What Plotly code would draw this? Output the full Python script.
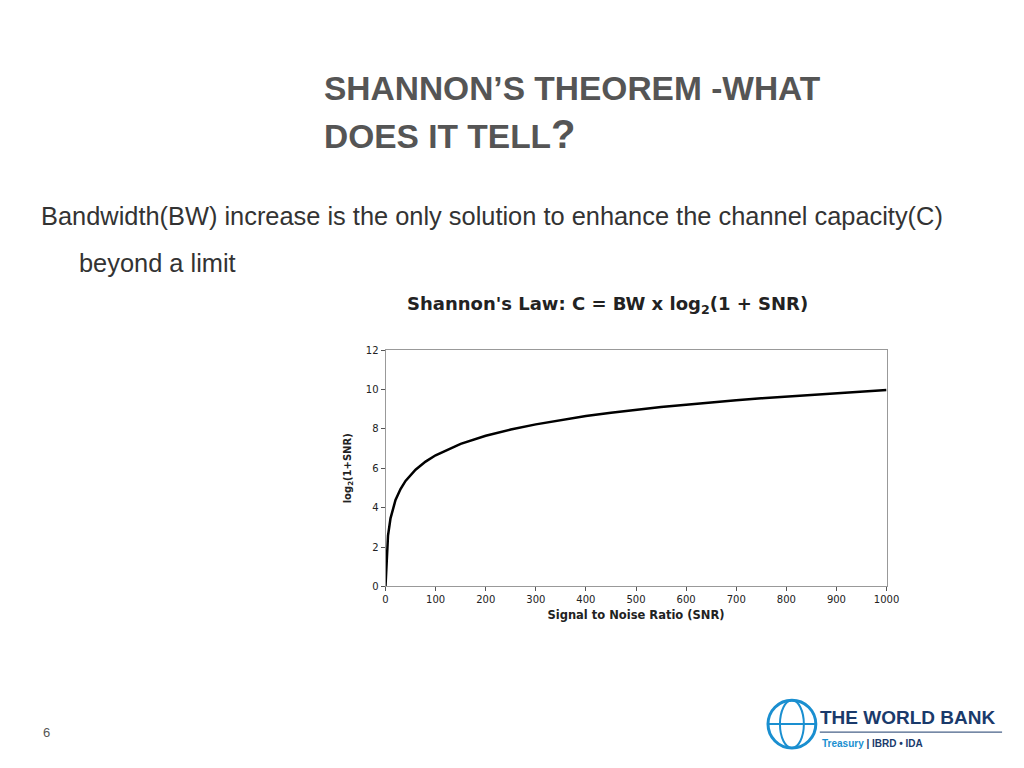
import plotly.graph_objects as go

snr = [0, 5, 10, 20, 30, 40, 60, 80, 100, 150, 200, 250, 300, 350, 400, 450, 500,
       550, 600, 650, 700, 750, 800, 850, 900, 950, 1000]
cap = [0, 2.58, 3.46, 4.39, 4.95, 5.36, 5.93, 6.34, 6.66, 7.24, 7.65, 7.97, 8.23, 8.45,
       8.65, 8.82, 8.97, 9.11, 9.23, 9.35, 9.45, 9.55, 9.64, 9.73, 9.81, 9.89, 9.97]
x_ticks = list(range(0, 1001, 100))
y_ticks = list(range(0, 13, 2))

W, H = 1024, 768
DY = -4
def fy(y):
    return 1 - (y + DY) / H

fig = go.Figure(go.Scatter(x=snr, y=cap, mode="lines",
                           line=dict(color="black", width=2.5), showlegend=False))

VF = "Verdana, DejaVu Sans"
axis_common = dict(showgrid=False, zeroline=False, showline=True, linecolor="#999999",
                   linewidth=1, mirror=True, ticks="outside", ticklen=4, tickcolor="#555",
                   tickfont=dict(family=VF, size=10, color="#222"))
fig.update_xaxes(range=[0, 1000], tickvals=x_ticks, domain=[384/W, 887/W],
                 title=dict(text="<b>Signal to Noise Ratio (SNR)</b>",
                            font=dict(family=VF, size=11.5, color="#222"), standoff=6),
                 **axis_common)
fig.update_yaxes(range=[0, 12], tickvals=y_ticks, domain=[fy(587), fy(350)],
                 title=dict(text="<b>log<sub>2</sub>(1+SNR)</b>",
                            font=dict(family=VF, size=10, color="#222"), standoff=12),
                 **axis_common)

def txt(x, y, t, size, color="#333", bold=False, family="Arial, Liberation Sans"):
    fig.add_annotation(x=x/W, y=fy(y), xref="paper", yref="paper", text=(f"<b>{t}</b>" if bold else t),
                       showarrow=False, xanchor="left", yanchor="middle",
                       font=dict(family=family, size=size, color=color))

txt(320, 88, "SHANNON’S THEOREM -WHAT", 33.5, "#555555", True)
txt(320, 133, "DOES IT TELL<span style='font-size:40px'>?</span>", 33.5, "#555555", True)
txt(36, 216, "Bandwidth(BW) increase is the only solution to enhance the channel capacity(C)", 25.4, "#333")
txt(74, 263, "beyond a limit", 25.4, "#333")
txt(404, 305, "Shannon's Law: C = BW x log<sub>2</sub>(1 + SNR)", 18, "#222", True, VF)
txt(38, 733, "6", 13, "#555")
txt(818, 718, "THE WORLD BANK", 19, "#1a3a6b", True)
txt(820, 744, "<span style='color:#1a8fd0'>Treasury</span> | IBRD • IDA", 10, "#1a3a6b", True)

fig.add_shape(type="line", xref="paper", yref="paper", x0=820/W, x1=1003/W,
              y0=fy(733), y1=fy(733), line=dict(color="#1a3a6b", width=1))
fig.add_shape(type="circle", xref="paper", yref="paper", x0=768/W, x1=816/W,
              y0=fy(749), y1=fy(701), line=dict(color="#1a8fd0", width=3))
fig.add_shape(type="circle", xref="paper", yref="paper", x0=780/W, x1=804/W,
              y0=fy(749), y1=fy(701), line=dict(color="#1a8fd0", width=2))
fig.add_shape(type="line", xref="paper", yref="paper", x0=768/W, x1=816/W,
              y0=fy(725), y1=fy(725), line=dict(color="#1a8fd0", width=2))

fig.update_layout(width=1036, height=777, margin=dict(l=0, r=0, t=0, b=0),
                  paper_bgcolor="white", plot_bgcolor="white")
fig.write_html("out.html", config={"displayModeBar": False})

with open("out.html", encoding="utf-8") as f:
    html = f.read()
html = html.replace("<head>", "<head><style>html,body{margin:0;padding:0;overflow:hidden}</style>", 1)
with open("out.html", "w", encoding="utf-8") as f:
    f.write(html)
